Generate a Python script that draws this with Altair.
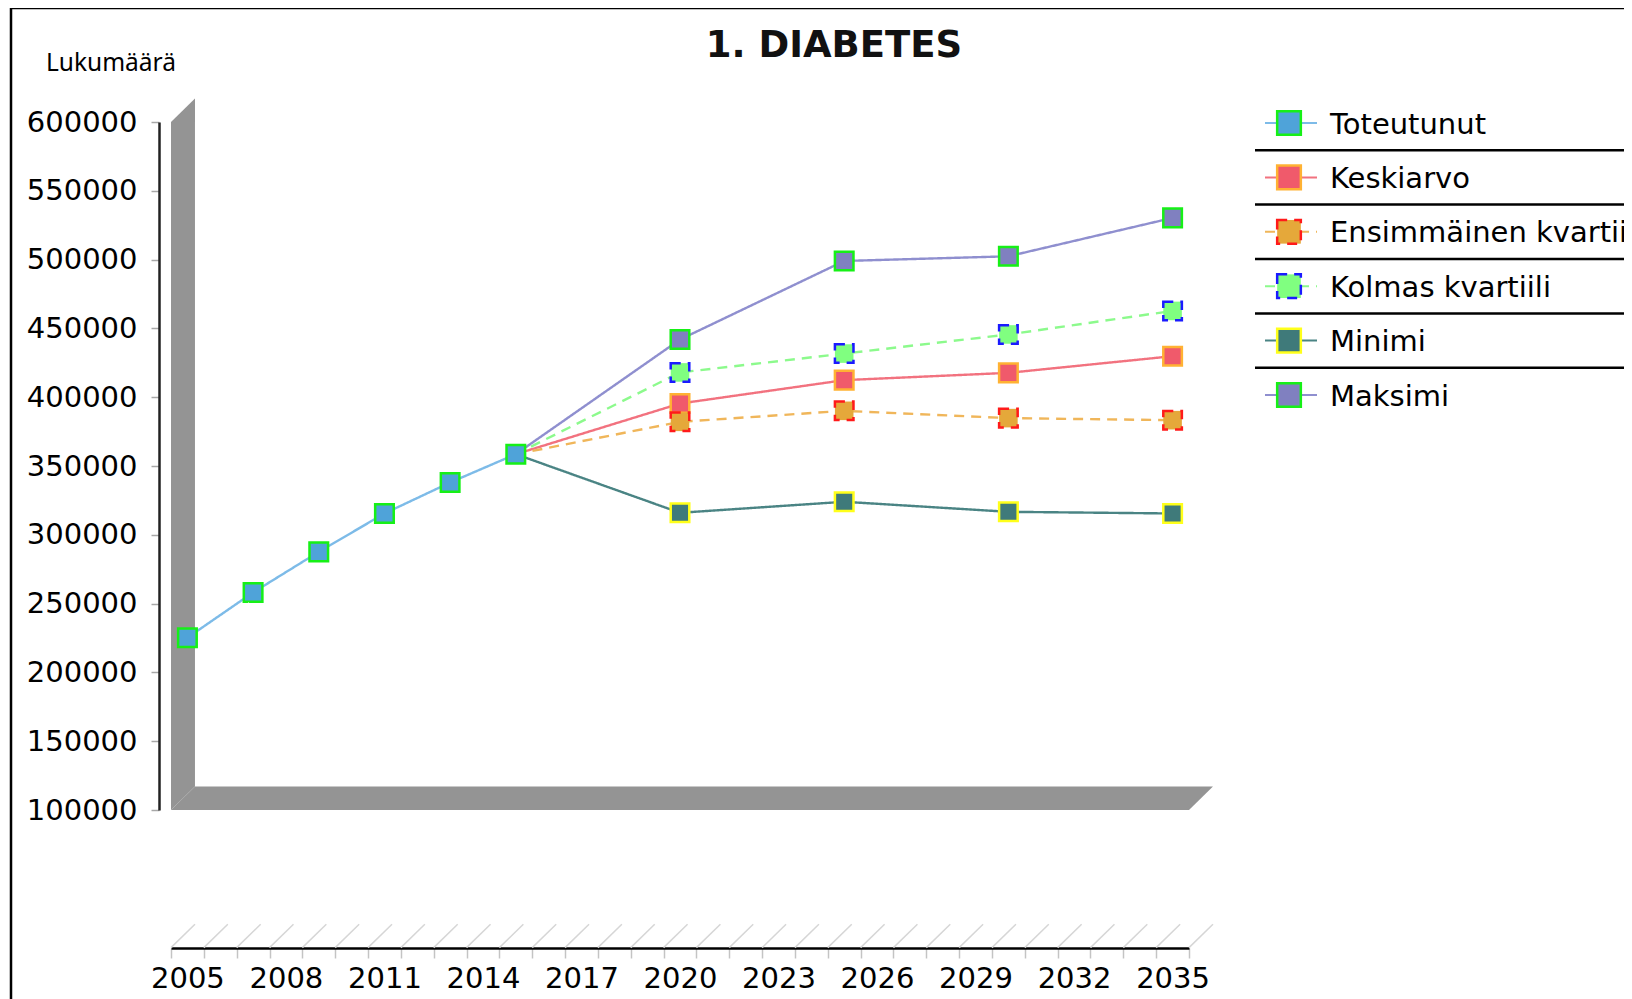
import altair as alt
import pandas as pd

# ---------------- data ----------------
TITLE = "1. DIABETES"
Y_TITLE = "Lukumäärä"
SERIES = ["Toteutunut", "Keskiarvo", "Ensimmäinen kvartiili", "Kolmas kvartiili", "Minimi", "Maksimi"]
LINE_COLORS = ["#7dbbe8", "#f2727f", "#f0b65a", "#8cfa8c", "#4a8484", "#8f8fcf"]
FILL_COLORS = ["#4fa3d9", "#f05a6b", "#e5a83a", "#80ff80", "#3f7a7a", "#8080c0"]
EDGE_COLORS = ["#16f016", "#ffb233", "#ff1a1a", "#1a1aff", "#ffff1a", "#16f016"]
DASHES = [[1, 0], [1, 0], [10, 7], [10, 7], [1, 0], [1, 0]]

YEARS = list(range(2005, 2036))            # category axis 2005..2035
LABEL_STEP = 3
Y_TICKS = [100000, 150000, 200000, 250000, 300000, 350000, 400000, 450000, 500000, 550000, 600000]

YEARS_ACTUAL = [2005, 2007, 2009, 2011, 2013, 2015]
TOTEUTUNUT = [225200, 258100, 287600, 315500, 338000, 358600]

YEARS_FORECAST = [2015, 2020, 2025, 2030, 2035]
KESKIARVO = [358600, 395400, 412400, 417700, 429800]
ENSIMMAINEN = [358600, 382100, 390100, 384800, 383300]
KOLMAS = [358600, 418000, 431700, 445600, 462700]
MINIMI = [358600, 316000, 324000, 316700, 315500]
MAKSIMI = [358600, 441900, 499000, 502400, 530300]

# ---------------- tables ----------------
rows = [("Toteutunut", y, v) for y, v in zip(YEARS_ACTUAL, TOTEUTUNUT)]
for name, vals in [("Keskiarvo", KESKIARVO), ("Ensimmäinen kvartiili", ENSIMMAINEN),
                   ("Kolmas kvartiili", KOLMAS), ("Minimi", MINIMI), ("Maksimi", MAKSIMI)]:
    rows += [(name, y, v) for y, v in zip(YEARS_FORECAST, vals)]
df = pd.DataFrame(rows, columns=["series", "year", "value"])

pts = df[~((df.series != "Toteutunut") & (df.year == YEARS_FORECAST[0]))]
pts = pd.concat([pts[pts.series != "Toteutunut"], pts[pts.series == "Toteutunut"]])

X_DOMAIN = [YEARS[0] - 0.5, YEARS[-1] + 0.5]
Y_DOMAIN = [Y_TICKS[0], Y_TICKS[-1]]
X_TICKS = [y - 0.5 for y in YEARS] + [YEARS[-1] + 0.5]

# 3D depth of the frame, in axis units
DEPTH_X = 0.73
DEPTH_Y = 17000

wall = pd.DataFrame({"x": [X_DOMAIN[0], X_DOMAIN[0] + DEPTH_X],
                     "y": [Y_DOMAIN[0], Y_DOMAIN[0] + DEPTH_Y],
                     "y2": [Y_DOMAIN[1], Y_DOMAIN[1] + DEPTH_Y]})
floor = pd.DataFrame({"x": [X_DOMAIN[0], X_DOMAIN[0] + DEPTH_X, X_DOMAIN[1], X_DOMAIN[1] + DEPTH_X],
                      "y": [Y_DOMAIN[0]] * 3 + [Y_DOMAIN[0] + DEPTH_Y],
                      "y2": [Y_DOMAIN[0], Y_DOMAIN[0] + DEPTH_Y, Y_DOMAIN[0] + DEPTH_Y, Y_DOMAIN[0] + DEPTH_Y]})
hatch = pd.DataFrame({"x": X_TICKS, "x2": [t + DEPTH_X for t in X_TICKS],
                      "y": [0] * len(X_TICKS), "y2": [DEPTH_Y] * len(X_TICKS)})

legend_df = pd.DataFrame({"series": SERIES, "row": list(range(len(SERIES)))})
sep_df = pd.DataFrame({"sep": [i + 0.5 for i in range(len(SERIES) - 1)]})
one = pd.DataFrame({"t": [TITLE], "yt": [Y_TITLE]})

FONT = "DejaVu Sans"

xs = alt.Scale(domain=X_DOMAIN, nice=False, zero=False)
ys = alt.Scale(domain=Y_DOMAIN, nice=False, zero=False)

x_axis = alt.Axis(values=X_TICKS,
                  labelExpr=f"((datum.value + 0.5 - {YEARS[0]}) % {LABEL_STEP} == 0 && datum.value < {YEARS[-1]}) ? '' + (datum.value + 0.5) : ''",
                  labelOffset=16.4, tickSize=10, tickColor="#c4c4c4", tickWidth=1.5,
                  domainColor="#000000", domainWidth=2.5, labelFont=FONT, labelFontSize=29,
                  labelColor="#000000", labelPadding=6, labelOverlap=False, labelFlush=False,
                  labelBound=False, offset=138, title=None, grid=False)
y_axis = alt.Axis(values=Y_TICKS, format="d", tickSize=8, tickColor="#a8a8a8", tickWidth=1.5,
                  domainColor="#222222", domainWidth=2.5, labelFont=FONT, labelFontSize=29,
                  labelColor="#000000", labelPadding=14, offset=12, title=None, grid=False,
                  labelOverlap=False)

color_s = alt.Color("series:N", scale=alt.Scale(domain=SERIES, range=LINE_COLORS), legend=None)
fill_s = alt.Fill("series:N", scale=alt.Scale(domain=SERIES, range=FILL_COLORS), legend=None)
stroke_s = alt.Stroke("series:N", scale=alt.Scale(domain=SERIES, range=EDGE_COLORS), legend=None)
dash_s = alt.StrokeDash("series:N", scale=alt.Scale(domain=SERIES, range=DASHES), legend=None)

GRAY = "#949494"
wall_l = alt.Chart(wall).mark_area(color=GRAY, orient="vertical", opacity=1).encode(
    x=alt.X("x:Q", scale=xs, axis=x_axis), y=alt.Y("y:Q", scale=ys, axis=y_axis), y2="y2:Q")
floor_l = alt.Chart(floor).mark_area(color=GRAY, orient="vertical", opacity=1).encode(
    x=alt.X("x:Q", scale=xs, axis=x_axis), y=alt.Y("y:Q", scale=ys, axis=y_axis), y2="y2:Q")
hatch_l = alt.Chart(hatch).mark_rule(color="#d6d6d6", strokeWidth=1.5).encode(
    x=alt.X("x:Q", scale=xs, axis=x_axis), x2="x2:Q",
    y=alt.Y("y:Q", scale=ys, axis=y_axis), y2="y2:Q")

lines = alt.Chart(df).mark_line(strokeWidth=2.4).encode(
    x=alt.X("year:Q", scale=xs, axis=x_axis),
    y=alt.Y("value:Q", scale=ys, axis=y_axis),
    color=color_s, strokeDash=dash_s, detail="series:N")
points = alt.Chart(pts).mark_point(shape="square", filled=True, size=345, strokeWidth=2.5, opacity=1).encode(
    x=alt.X("year:Q", scale=xs, axis=x_axis),
    y=alt.Y("value:Q", scale=ys, axis=y_axis),
    fill=fill_s, stroke=stroke_s, strokeDash=dash_s)

title_l = alt.Chart(one).mark_text(font=FONT, fontSize=37, fontWeight="bold", color="#111111",
                                   align="center", baseline="alphabetic").encode(
    text="t:N", x=alt.value(663), y=alt.value(-65))
ytitle_l = alt.Chart(one).mark_text(font="Noto Sans", fontSize=24.5, color="#000000",
                                    align="left", baseline="alphabetic").encode(
    text="yt:N", x=alt.value(-125), y=alt.value(-51))
frame_left = alt.Chart(one).mark_rule(color="#000000", strokeWidth=2.5).encode(
    x=alt.value(-160), y=alt.value(-114), y2=alt.value(1000))
frame_top = alt.Chart(one).mark_rule(color="#000000", strokeWidth=2.5).encode(
    x=alt.value(-161), x2=alt.value(1480), y=alt.value(-114))

plot = alt.layer(wall_l, floor_l, hatch_l, lines, points, title_l, ytitle_l, frame_left, frame_top)

ls = alt.Scale(domain=[0, len(SERIES) - 1], range=[1, 273])
seps = alt.Chart(sep_df).mark_rule(color="#000000", strokeWidth=2.5).encode(
    x=alt.value(1084), x2=alt.value(1480), y=alt.Y("sep:Q", scale=ls, axis=None))
leg_lines = alt.Chart(legend_df).mark_rule(strokeWidth=2).encode(
    x=alt.value(1094), x2=alt.value(1146), y=alt.Y("row:Q", scale=ls, axis=None),
    color=color_s, strokeDash=dash_s)
leg_sq = alt.Chart(legend_df).mark_point(shape="square", filled=True, size=560, strokeWidth=2.5, opacity=1).encode(
    x=alt.value(1118), y=alt.Y("row:Q", scale=ls, axis=None),
    fill=fill_s, stroke=stroke_s, strokeDash=dash_s)
leg_text = alt.Chart(legend_df).mark_text(font=FONT, fontSize=29, color="#000000", align="left",
                                          baseline="alphabetic", dy=10.5).encode(
    text="series:N", x=alt.value(1159), y=alt.Y("row:Q", scale=ls, axis=None))
legend = alt.layer(seps, leg_lines, leg_sq, leg_text)

chart = alt.layer(plot, legend).resolve_scale(y="independent").properties(
    width=1018, height=688,
    autosize=alt.AutoSizeParams(type="none"),
    padding={"left": 163, "top": 114, "right": 435, "bottom": 189},
    background="#ffffff",
).configure_view(strokeWidth=0)

chart.save("out.html", embed_options={"renderer": "svg", "actions": False})
